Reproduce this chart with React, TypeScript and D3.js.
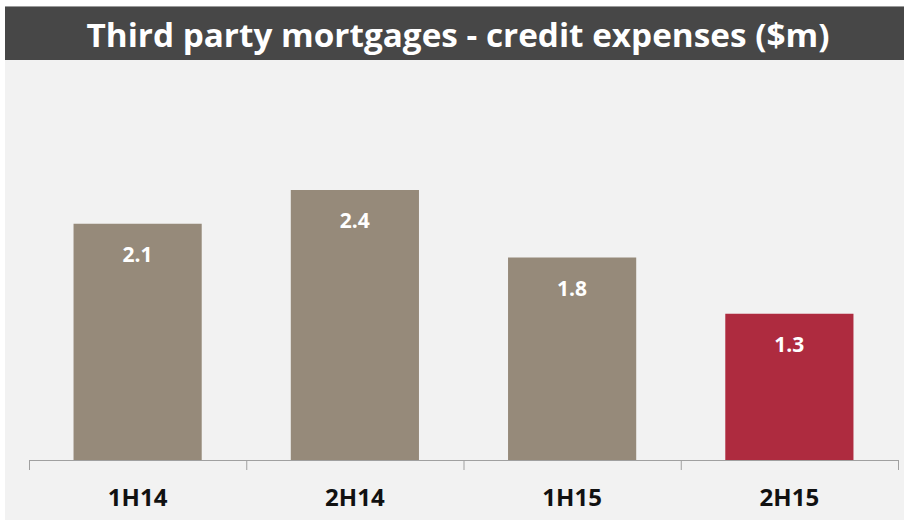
import React from "react";
import * as d3 from "d3";

const categories = ["1H14", "2H14", "1H15", "2H15"];
const values = [2.1, 2.4, 1.8, 1.3];
const highlight = ["2H15"];
const title = "Third party mortgages - credit expenses ($m)";

export default function App() {
  const W = 908, H = 522;
  const x = d3.scaleBand<string>().domain(categories).range([29, 898]).paddingInner(0.41).paddingOuter(0.205);
  const y = d3.scaleLinear().domain([0, 2.4]).range([460, 190]);
  const font = "'Open Sans', 'Liberation Sans', sans-serif";
  const ticks = categories.map((_, i) => 29 + i * x.step()).concat([898]);
  return (
    <svg width={W} height={H} style={{ position: "absolute", left: 0, top: 0 }}>
      <rect x={0} y={0} width={W} height={H} fill="#ffffff" />
      <rect x={5} y={60} width={899} height={460} fill="#f2f2f2" />
      <rect x={5} y={6} width={899} height={54} fill="#474747" />
      <line x1={5} x2={904} y1={6.5} y2={6.5} stroke="#9a9a9a" />
      <text x={458} y={47} textAnchor="middle" fill="#ffffff" fontFamily={font} fontWeight={700} fontSize={33} textLength={743} lengthAdjust="spacingAndGlyphs">
        {title}
      </text>
      {categories.map((c, i) => (
        <g key={c}>
          <rect
            x={x(c)}
            y={y(values[i])}
            width={x.bandwidth()}
            height={460 - y(values[i])}
            fill={highlight.includes(c) ? "#ae2b3f" : "#968a7a"}
          />
          <text
            x={(x(c) as number) + x.bandwidth() / 2}
            y={y(values[i]) + 38}
            textAnchor="middle"
            fill="#ffffff"
            fontFamily={font}
            fontWeight={700}
            fontSize={21}
          >
            {values[i].toFixed(1)}
          </text>
          <text
            x={(x(c) as number) + x.bandwidth() / 2}
            y={506}
            textAnchor="middle"
            fill="#111111"
            fontFamily={font}
            fontWeight={700}
            fontSize={24}
          >
            {c}
          </text>
        </g>
      ))}
      <line x1={29} x2={898} y1={460.5} y2={460.5} stroke="#a0a0a0" />
      {ticks.map((t, i) => (
        <line key={i} x1={t + 0.5} x2={t + 0.5} y1={460} y2={470} stroke="#a0a0a0" />
      ))}
    </svg>
  );
}
